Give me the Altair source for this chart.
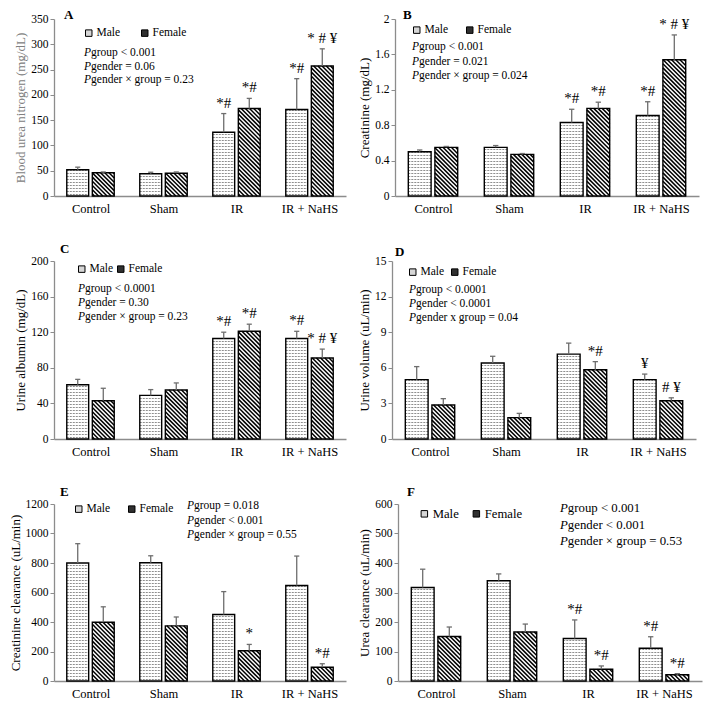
import json
import numpy as np
import pandas as pd
import altair as alt

FONT = "Liberation Serif"

groups = ["Control", "Sham", "IR", "IR + NaHS"]
sexes = ["Male", "Female"]

# A: Blood urea nitrogen
bun_male = [52, 44, 126, 171]
bun_male_err = [5, 3, 37, 61]
bun_female = [46, 45, 173, 257]
bun_female_err = [1.5, 2.5, 20, 34]
bun_male_sig = ["", "", "*#", "*#"]
bun_female_sig = ["", "", "*#", "* # ¥"]
bun_p = ["group < 0.001", "gender = 0.06", "gender × group = 0.23"]

# B: Creatinine
cr_male = [0.50, 0.55, 0.83, 0.91]
cr_male_err = [0.02, 0.02, 0.15, 0.155]
cr_female = [0.55, 0.47, 0.99, 1.54]
cr_female_err = [0.01, 0.01, 0.07, 0.28]
cr_male_sig = ["", "", "*#", "*#"]
cr_female_sig = ["", "", "*#", "* # ¥"]
cr_p = ["group < 0.001", "gender = 0.021", "gender × group = 0.024"]

# C: Urine albumin
alb_male = [61, 49, 113, 113]
alb_male_err = [6, 6.5, 7, 8]
alb_female = [43, 55, 121, 91]
alb_female_err = [14, 8, 8, 10]
alb_male_sig = ["", "", "*#", "*#"]
alb_female_sig = ["", "", "*#", "* # ¥"]
alb_p = ["group < 0.0001", "gender = 0.30", "gender × group = 0.23"]

# D: Urine volume
uv_male = [5.0, 6.4, 7.15, 5.0]
uv_male_err = [1.1, 0.57, 0.93, 0.47]
uv_female = [2.87, 1.8, 5.84, 3.22]
uv_female_err = [0.53, 0.36, 0.68, 0.25]
uv_male_sig = ["", "", "", "¥"]
uv_female_sig = ["", "", "*#", "# ¥"]
uv_p = ["group < 0.0001", "gender < 0.0001", "gender x group = 0.04"]

# E: Creatinine clearance
ccl_male = [800, 802, 451, 647]
ccl_male_err = [131, 47, 155, 200]
ccl_female = [398, 374, 205, 93]
ccl_female_err = [105, 60, 43, 24]
ccl_male_sig = ["", "", "", ""]
ccl_female_sig = ["", "", "*", "*#"]
ccl_p = ["group = 0.018", "gender < 0.001", "gender × group = 0.55"]

# F: Urea clearance
ucl_male = [317, 340, 144, 111]
ucl_male_err = [62, 23, 63, 39]
ucl_female = [151, 166, 40, 21]
ucl_female_err = [32, 27, 11, 4]
ucl_male_sig = ["", "", "*#", "*#"]
ucl_female_sig = ["", "", "*#", "*#"]
ucl_p = ["group < 0.001", "gender < 0.001", "gender × group = 0.53"]


def panel(letter, ytitle, ymax, ystep, male, male_err, female, female_err,
          male_sig, female_sig, p_lines, cfg):
    W, H = cfg["w"], cfg["h"]
    xpx = W / 4.0
    ypx = H / ymax
    rows = []
    for gi, g in enumerate(groups):
        for sex, vals, errs, sigs, off in (
            ("Male", male, male_err, male_sig, -0.175),
            ("Female", female, female_err, female_sig, 0.175),
        ):
            xc = gi + off
            rows.append(dict(group=g, sex=sex, xc=xc, xl=xc - 0.15, xr=xc + 0.15,
                             value=vals[gi], top=vals[gi] + errs[gi],
                             cl=xc - 0.035, cr=xc + 0.035, sig=sigs[gi], zero=0.0))
    bars = pd.DataFrame(rows)

    # hatch patterns derived from the bar geometry
    mh, fh = [], []
    for r in rows:
        hp = r["value"] * ypx
        wp = (r["xr"] - r["xl"]) * xpx
        if r["sex"] == "Male":
            k = 1.5
            while k < hp - 0.5:
                mh.append(dict(x=r["xl"], x2=r["xr"], y=k / ypx))
                k += 3.0
        else:
            period = 4.2
            c = period * 0.5
            while c < wp + hp:
                xa = max(0.0, c - hp)
                xb = min(wp, c)
                if xb > xa:
                    fh.append(dict(x=r["xl"] + xa / xpx, y=(c - xa) / ypx,
                                   x2=r["xl"] + xb / xpx, y2=(c - xb) / ypx))
                c += period
    mh_df = pd.DataFrame(mh, columns=["x", "x2", "y"])
    fh_df = pd.DataFrame(fh, columns=["x", "x2", "y", "y2"])

    xscale = alt.Scale(domain=[-0.5, 3.5], nice=False, zero=False)
    yscale = alt.Scale(domain=[0, ymax], nice=False)
    nticks = int(round(ymax / ystep))
    yvals = [round(i * ystep, 6) for i in range(nticks + 1)]
    xaxis = alt.Axis(values=[0, 1, 2, 3], tickCount=4,
                     labelExpr=json.dumps(groups) + "[datum.value]",
                     title=None, ticks=False, grid=False, domainColor="#8c8c8c",
                     domainWidth=1.3, labelFont=FONT, labelFontSize=12.5,
                     labelColor="black", labelPadding=6, labelOverlap=False)
    yaxis = alt.Axis(values=yvals, tickCount=len(yvals) + 2,
                     labelExpr="'' + datum.value", title=ytitle, grid=False,
                     domainColor="#8c8c8c", domainWidth=1.3, tickColor="#8c8c8c",
                     tickSize=4, labelFont=FONT, labelFontSize=11.5, labelColor="black",
                     labelPadding=2, labelOverlap=False, labelFlush=False,
                     titleFont=FONT, titleFontSize=13,
                     titleFontWeight="normal", titleColor=cfg.get("tcolor", "black"),
                     titlePadding=3)

    base = alt.Chart(bars)
    white = base.mark_rect(color="white").encode(
        x=alt.X("xl:Q", scale=xscale, axis=xaxis), x2="xr:Q",
        y=alt.Y("value:Q", scale=yscale, axis=yaxis), y2="zero:Q")
    legend_layer = base.mark_rect().encode(
        x="xl:Q", x2="xr:Q", y="zero:Q", y2="zero:Q",
        fill=alt.Fill("sex:N", scale=alt.Scale(domain=sexes, range=["#d6d6d6", "#303030"]),
                      legend=alt.Legend(orient="none", legendX=cfg["lgx"], legendY=cfg["lgy"],
                                        direction="horizontal", title=None, symbolType="square",
                                        symbolSize=42, symbolStrokeColor="black",
                                        symbolStrokeWidth=1, labelFont=FONT,
                                        labelFontSize=cfg["lgf"], labelColor="black",
                                        columnPadding=cfg["cp"], labelOffset=2, padding=0)))
    male_hatch = alt.Chart(mh_df).mark_rule(color="#8e8e8e", strokeWidth=1.1,
                                            strokeDash=[2, 1]).encode(
        x="x:Q", x2="x2:Q", y="y:Q")
    fem_hatch = alt.Chart(fh_df).mark_rule(color="black", strokeWidth=1.5).encode(
        x="x:Q", x2="x2:Q", y="y:Q", y2="y2:Q")
    outline = base.mark_rect(fillOpacity=0, stroke="black", strokeWidth=1.4).encode(
        x="xl:Q", x2="xr:Q", y="value:Q", y2="zero:Q")
    err = base.mark_rule(color="#6e6e6e", strokeWidth=1.3).encode(
        x="xc:Q", y="value:Q", y2="top:Q")
    cap = base.mark_rule(color="#6e6e6e", strokeWidth=1.3).encode(
        x="cl:Q", x2="cr:Q", y="top:Q")
    sig = base.transform_filter("datum.sig != ''").mark_text(
        font=FONT, fontSize=15, baseline="alphabetic", dy=-6, color="black").encode(
        x="xc:Q", y="top:Q", text="sig:N")
    one = pd.DataFrame({"k": [0]})
    letter_t = alt.Chart(one).mark_text(
        text=letter, font=FONT, fontWeight="bold", fontSize=13, align="left",
        baseline="middle", color="black").encode(x=alt.value(cfg["lx"]), y=alt.value(cfg["ly"]))
    pf = cfg["pf"]
    p_it = alt.Chart(one).mark_text(
        text=["P"] * len(p_lines), font=FONT, fontStyle="italic", fontSize=pf,
        align="left", baseline="top", lineHeight=cfg["lh"], color="black").encode(
        x=alt.value(cfg["px"]), y=alt.value(cfg["py"]))
    p_rest = alt.Chart(one).mark_text(
        text=p_lines, font=FONT, fontSize=pf, align="left", baseline="top",
        lineHeight=cfg["lh"], color="black").encode(
        x=alt.value(cfg["px"] + 0.611 * pf), y=alt.value(cfg["py"]))

    return alt.layer(white, legend_layer, male_hatch, fem_hatch, outline, err, cap,
                     sig, letter_t, p_it, p_rest).properties(width=W, height=H)


LW, RW = 292, 304
H1, H2, H3 = 177, 178, 177

pA = panel("A", "Blood urea nitrogen  (mg/dL)", 350, 50, bun_male, bun_male_err,
           bun_female, bun_female_err, bun_male_sig, bun_female_sig, bun_p,
           dict(w=LW, h=H1, tcolor="#808080", lx=10, ly=-4, lgx=29, lgy=8, lgf=11.5, cp=18,
                px=30, py=28, pf=11.5, lh=13.5))
pB = panel("B", "Creatinine (mg/dL)", 2, 0.4, cr_male, cr_male_err, cr_female,
           cr_female_err, cr_male_sig, cr_female_sig, cr_p,
           dict(w=RW, h=H1, lx=8, ly=-4, lgx=16, lgy=5, lgf=11.5, cp=15,
                px=17, py=22, pf=11.5, lh=14.5))
pC = panel("C", "Urine albumin (mg/dL)", 200, 40, alb_male, alb_male_err, alb_female,
           alb_female_err, alb_male_sig, alb_female_sig, alb_p,
           dict(w=LW, h=H2, lx=6, ly=-12, lgx=22, lgy=2, lgf=11.5, cp=1,
                px=24, py=22, pf=11.5, lh=14))
pD = panel("D", "Urine  volume (uL/min)", 15, 3, uv_male, uv_male_err, uv_female,
           uv_female_err, uv_male_sig, uv_female_sig, uv_p,
           dict(w=RW, h=H2, lx=3, ly=-9, lgx=15, lgy=5, lgf=11.5, cp=4,
                px=17, py=23, pf=11.5, lh=14))
pE = panel("E", "Creatinine  clearance (uL/min)", 1200, 200, ccl_male, ccl_male_err,
           ccl_female, ccl_female_err, ccl_male_sig, ccl_female_sig, ccl_p,
           dict(w=LW, h=H3, lx=6, ly=-12, lgx=19, lgy=-1, lgf=11.5, cp=15,
                px=133, py=-4, pf=11.5, lh=14.5))
pF = panel("F", "Urea clearance (uL/min)", 600, 100, ucl_male, ucl_male_err,
           ucl_female, ucl_female_err, ucl_male_sig, ucl_female_sig, ucl_p,
           dict(w=RW, h=H3, lx=9, ly=-12, lgx=20, lgy=3, lgf=12.7, cp=11,
                px=162, py=-2, pf=12.8, lh=16.5))

row1 = alt.hconcat(pA, pB, spacing=11).resolve_scale(fill="independent").resolve_legend(fill="independent")
row2 = alt.hconcat(pC, pD, spacing=11).resolve_scale(fill="independent").resolve_legend(fill="independent")
row3 = alt.hconcat(pE, pF, spacing=11).resolve_scale(fill="independent").resolve_legend(fill="independent")

chart = alt.vconcat(row1, row2, row3, spacing=27).resolve_scale(
    fill="independent").resolve_legend(fill="independent").configure_view(
    stroke="transparent").properties(padding=0, background="white")

chart.save("out.html", embed_options={"renderer": "svg", "actions": False})
